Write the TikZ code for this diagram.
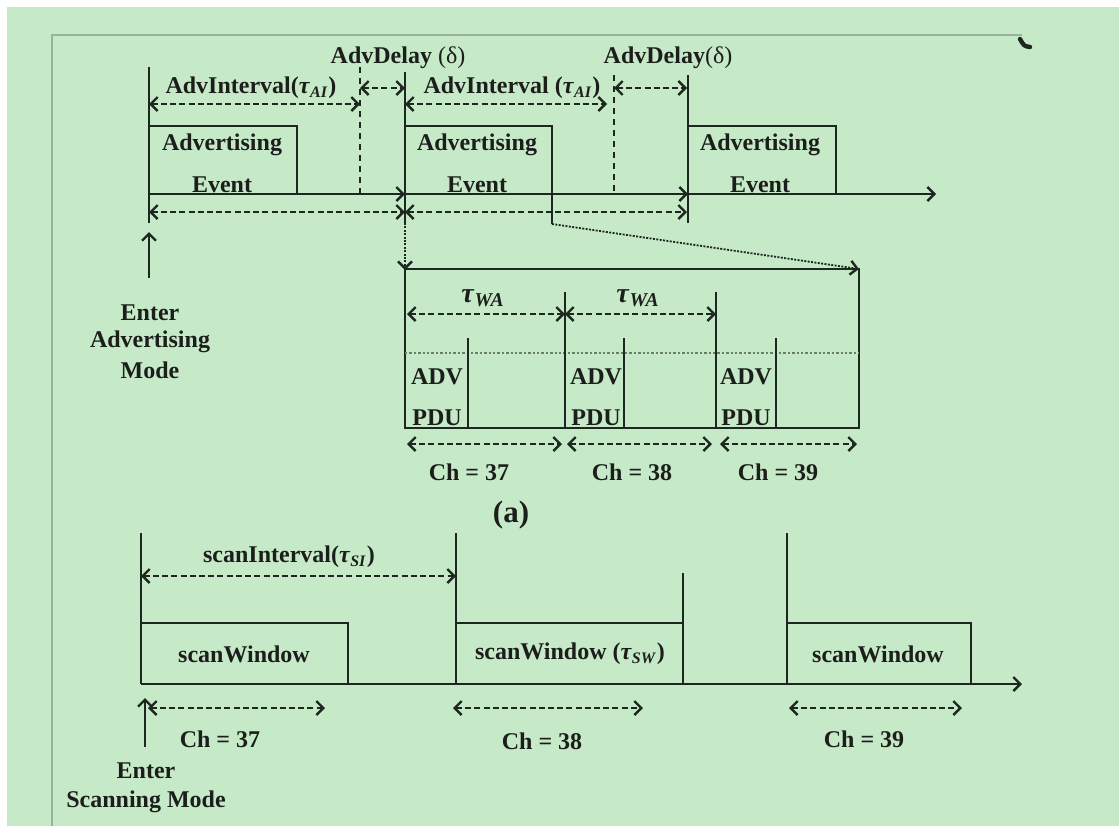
\documentclass[tikz,border=0pt]{standalone}
\usepackage{fontspec}
\setmainfont{Liberation Serif}
\usetikzlibrary{arrows.meta}
\definecolor{bgc}{RGB}{198,234,200}
\definecolor{linec}{RGB}{30,38,32}
\definecolor{txtc}{RGB}{28,30,28}
\definecolor{framec}{RGB}{150,178,152}
\newcommand{\tauS}[1]{\textit{τ}\textsubscript{\textit{#1}}}
\tikzset{
  ln/.style={line width=1.2pt, draw=linec},
  tip/.tip={Straight Barb[length=3.5pt,width=7pt,line width=1.2pt]},
  dimarrow/.style={line width=0.9pt, draw=linec, dash pattern=on 3pt off 1.6pt, tip-tip},
  axisarrow/.style={line width=1.2pt, draw=linec, -tip},
  zoomline/.style={line width=0.9pt, draw=linec, dash pattern=on 1pt off 0.7pt, -tip},
  vdash/.style={line width=0.9pt, draw=linec, dash pattern=on 3pt off 2.5pt},
  lbl/.style={font=\bfseries\fontsize{12}{14}\selectfont, text=txtc, inner sep=0pt},
}
\begin{document}
\begin{tikzpicture}[x=0.5pt,y=-0.5pt]
\useasboundingbox (0,0) rectangle (1119,826);
\fill[white] (0,0) rectangle (1119,826);
\fill[bgc] (7,7) rectangle (1119,826);
% frame remnants
\draw[framec, line width=0.8pt] (1022,35) -- (52,35) -- (52,826);
\draw[linec, line width=2.2pt, line cap=round] (1020,39) .. controls (1024,46) .. (1030,47);

% ---------- (a) advertising ----------
\coordinate (t1) at (149,67);  \coordinate (b1) at (149,223);
\coordinate (t2) at (405,72);  \coordinate (b2) at (405,223);
\coordinate (t3) at (688,75);  \coordinate (b3) at (688,223);
\draw[ln] (t1) -- (b1);
\draw[ln] (t2) -- (b2);
\draw[ln] (t3) -- (b3);
\coordinate (dd1t) at (360,67); \coordinate (dd1b) at (360,193);
\coordinate (dd2t) at (614,75); \coordinate (dd2b) at (614,193);
\draw[vdash] (dd1t) -- (dd1b);
\draw[vdash] (dd2t) -- (dd2b);
% event boxes
\draw[ln] (149,126) -- (297,126) -- (297,194);
\draw[ln] (405,126) -- (552,126) -- (552,224);
\draw[ln] (688,126) -- (836,126) -- (836,194);
% axis
\coordinate (a0) at (149,194); \coordinate (a1) at (405,194);
\coordinate (a2) at (688,194); \coordinate (a3) at (936,194);
\draw[axisarrow] (a0) -- (a1);
\draw[axisarrow] (a1) -- (a2);
\draw[axisarrow] (a2) -- (a3);
% interval arrows
\draw[dimarrow] (149,104) -- (360,104);
\draw[dimarrow] (405,104) -- (607,104);
\draw[dimarrow] (360,88) -- (405,88);
\draw[dimarrow] (614,88) -- (687,88);
\draw[dimarrow] (149,212) -- (405,212);
\draw[dimarrow] (405,212) -- (687,212);
% labels
\node[lbl] (ai1) at (251,88) {AdvInterval(\tauS{AI})};
\node[lbl] (ad1) at (398,58) {AdvDelay \textmd{(δ)}};
\node[lbl] (ai2) at (512,88) {AdvInterval (\tauS{AI})};
\node[lbl] (ad2) at (668,58) {AdvDelay\textmd{(δ)}};
\node[lbl] (ev1a) at (222,145) {Advertising};
\node[lbl] (ev1b) at (222,185) {Event};
\node[lbl] (ev2a) at (477,145) {Advertising};
\node[lbl] (ev2b) at (477,185) {Event};
\node[lbl] (ev3a) at (760,145) {Advertising};
\node[lbl] (ev3b) at (760,185) {Event};
% enter advertising
\coordinate (ea0) at (149,278); \coordinate (ea1) at (149,232);
\draw[axisarrow] (ea0) -- (ea1);
\node[lbl] (ent1) at (150,313) {Enter};
\node[lbl] (ent2) at (150,342) {Advertising};
\node[lbl] (ent3) at (150,370) {Mode};
% zoom connectors
\coordinate (zt) at (405,270); \coordinate (zr0) at (552,224); \coordinate (zr1) at (859,269);
\draw[zoomline] (b2) -- (zt);
\draw[zoomline] (zr0) -- (zr1);
% big box
\draw[ln] (405,269) -- (859,269) -- (859,428) -- (405,428) -- cycle;
\draw[framec!70!black, line width=0.6pt, dash pattern=on 1.2pt off 1pt] (405,353) -- (859,353);
\draw[ln] (565,292) -- (565,428);
\draw[ln] (716,292) -- (716,428);
\draw[ln] (468,338) -- (468,428);
\draw[ln] (624,338) -- (624,428);
\draw[ln] (776,338) -- (776,428);
\draw[dimarrow] (407,314) -- (565,314);
\draw[dimarrow] (565,314) -- (716,314);
\node[lbl, font=\bfseries\fontsize{14}{16}\selectfont] (wa1) at (483,298) {\tauS{WA}};
\node[lbl, font=\bfseries\fontsize{14}{16}\selectfont] (wa2) at (638,298) {\tauS{WA}};
\node[lbl] (adv1) at (437,377) {ADV};
\node[lbl] (pdu1) at (437,418) {PDU};
\node[lbl] (adv2) at (596,377) {ADV};
\node[lbl] (pdu2) at (596,418) {PDU};
\node[lbl] (adv3) at (746,377) {ADV};
\node[lbl] (pdu3) at (746,418) {PDU};
\draw[dimarrow] (407,444) -- (562,444);
\draw[dimarrow] (567,444) -- (712,444);
\draw[dimarrow] (720,444) -- (857,444);
\node[lbl] (ch37a) at (469,472) {Ch = 37};
\node[lbl] (ch38a) at (632,472) {Ch = 38};
\node[lbl] (ch39a) at (778,472) {Ch = 39};
\node[lbl, font=\bfseries\fontsize{15.5}{17}\selectfont] (cap) at (511,515) {(a)};

% ---------- scanning ----------
\draw[ln] (141,533) -- (141,684);
\draw[ln] (456,533) -- (456,684);
\draw[ln] (683,573) -- (683,684);
\draw[ln] (787,533) -- (787,684);
\draw[ln] (141,623) -- (348,623) -- (348,684);
\draw[ln] (456,623) -- (683,623);
\draw[ln] (787,623) -- (971,623) -- (971,684);
\coordinate (s0) at (141,684); \coordinate (s1) at (1022,684);
\draw[axisarrow] (s0) -- (s1);
\draw[dimarrow] (141,576) -- (456,576);
\node[lbl] (si) at (289,557) {scanInterval(\tauS{SI})};
\node[lbl] (sw1) at (244,654) {scanWindow};
\node[lbl] (sw2) at (570,654) {scanWindow (\tauS{SW})};
\node[lbl] (sw3) at (878,654) {scanWindow};
\draw[dimarrow] (148,708) -- (325,708);
\draw[dimarrow] (453,708) -- (643,708);
\draw[dimarrow] (789,708) -- (962,708);
\node[lbl] (ch37b) at (220,739) {Ch = 37};
\node[lbl] (ch38b) at (542,741) {Ch = 38};
\node[lbl] (ch39b) at (864,739) {Ch = 39};
\coordinate (es0) at (145,747); \coordinate (es1) at (145,698);
\draw[axisarrow] (es0) -- (es1);
\node[lbl] (ens1) at (146,771) {Enter};
\node[lbl] (ens2) at (146,802) {Scanning Mode};
\end{tikzpicture}
\end{document}
